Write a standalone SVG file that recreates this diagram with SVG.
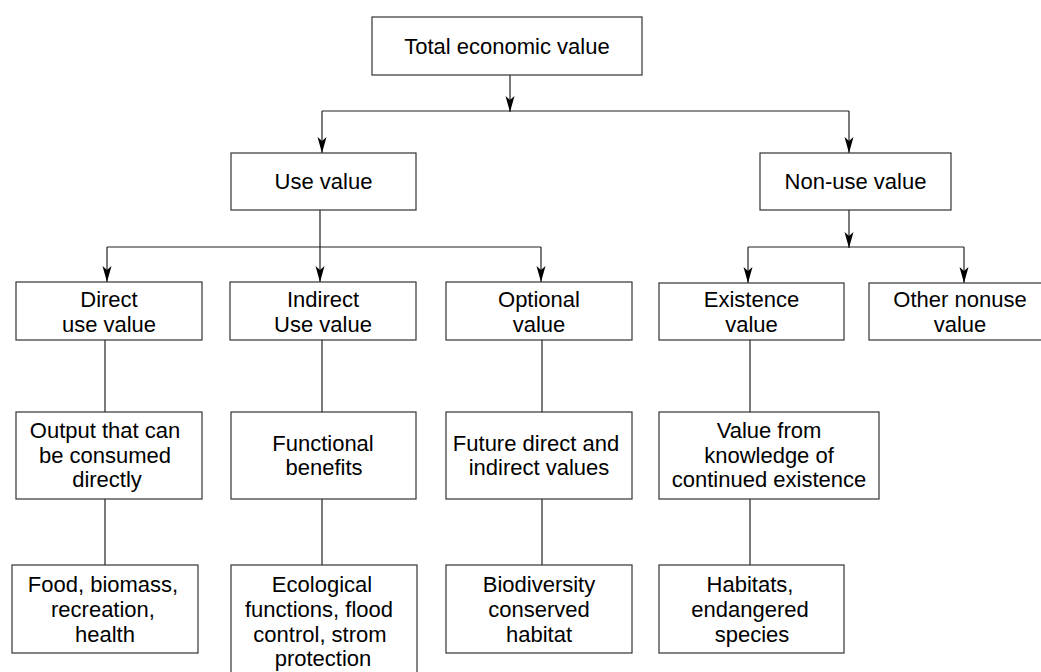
<svg xmlns="http://www.w3.org/2000/svg" width="1041" height="672" viewBox="0 0 1041 672">
<style>
.box{fill:#fff;stroke:#333;stroke-width:1.2}
.t{font-family:"Liberation Sans",Arial,sans-serif;font-size:22px;fill:#000;text-anchor:middle}
.ln{fill:none;stroke:#222;stroke-width:1.2}
</style>
<defs>
<marker id="ah" markerUnits="userSpaceOnUse" markerWidth="17" markerHeight="10" refX="16" refY="4.5" orient="auto">
<path d="M0,0 L16,4.5 L0,9 L4,4.5 z" fill="#000"/>
</marker>
</defs>
<rect width="1041" height="672" fill="#fff"/>
<g id="connectors">
<line class="ln" x1="510" y1="75" x2="510" y2="112" marker-end="url(#ah)"/>
<line class="ln" x1="322" y1="111" x2="849" y2="111"/>
<line class="ln" x1="322" y1="111" x2="322" y2="153" marker-end="url(#ah)"/>
<line class="ln" x1="849" y1="111" x2="849" y2="153" marker-end="url(#ah)"/>
<line class="ln" x1="107" y1="247" x2="541" y2="247"/>
<line class="ln" x1="320" y1="210" x2="320" y2="282" marker-end="url(#ah)"/>
<line class="ln" x1="107" y1="247" x2="107" y2="282" marker-end="url(#ah)"/>
<line class="ln" x1="541" y1="247" x2="541" y2="282" marker-end="url(#ah)"/>
<line class="ln" x1="849" y1="210" x2="849" y2="248" marker-end="url(#ah)"/>
<line class="ln" x1="748" y1="247" x2="964" y2="247"/>
<line class="ln" x1="748" y1="247" x2="748" y2="283" marker-end="url(#ah)"/>
<line class="ln" x1="964" y1="247" x2="964" y2="283" marker-end="url(#ah)"/>
<line class="ln" x1="105" y1="340" x2="105" y2="412"/>
<line class="ln" x1="105" y1="499" x2="105" y2="565"/>
<line class="ln" x1="322" y1="340" x2="322" y2="412"/>
<line class="ln" x1="322" y1="499" x2="322" y2="565"/>
<line class="ln" x1="542" y1="340" x2="542" y2="412"/>
<line class="ln" x1="542" y1="499" x2="542" y2="565"/>
<line class="ln" x1="750" y1="340" x2="750" y2="412"/>
<line class="ln" x1="750" y1="499" x2="750" y2="565"/>
</g>
<g id="total"><rect class="box" x="372" y="17" width="270" height="58"/><text class="t" x="507" y="54">Total economic value</text></g>
<g id="use"><rect class="box" x="231" y="153" width="185" height="57"/><text class="t" x="323.5" y="189">Use value</text></g>
<g id="nonuse"><rect class="box" x="760" y="153" width="191" height="57"/><text class="t" x="855.5" y="189">Non-use value</text></g>
<g id="direct"><rect class="box" x="16" y="282" width="186" height="58"/><text class="t" x="109" y="307">Direct</text><text class="t" x="109" y="332">use value</text></g>
<g id="indirect"><rect class="box" x="230" y="282" width="186" height="58"/><text class="t" x="323" y="307">Indirect</text><text class="t" x="323" y="332">Use value</text></g>
<g id="optional"><rect class="box" x="446" y="282" width="186" height="58"/><text class="t" x="539" y="307">Optional</text><text class="t" x="539" y="332">value</text></g>
<g id="existence"><rect class="box" x="659" y="283" width="185" height="57"/><text class="t" x="751.5" y="307">Existence</text><text class="t" x="751.5" y="332">value</text></g>
<g id="othernonuse"><rect class="box" x="869" y="283" width="186" height="57"/><text class="t" x="960" y="307">Other nonuse</text><text class="t" x="960" y="332">value</text></g>
<g id="output"><rect class="box" x="16" y="412" width="186" height="87"/><text class="t" x="105" y="438">Output that can</text><text class="t" x="105" y="463">be consumed</text><text class="t" x="107" y="487">directly</text></g>
<g id="functional"><rect class="box" x="231" y="412" width="185" height="87"/><text class="t" x="323" y="451">Functional</text><text class="t" x="324" y="475">benefits</text></g>
<g id="future"><rect class="box" x="446" y="412" width="186" height="87"/><text class="t" x="536" y="451">Future direct and</text><text class="t" x="539" y="475">indirect values</text></g>
<g id="valuefrom"><rect class="box" x="659" y="412" width="220" height="87"/><text class="t" x="769" y="438">Value from</text><text class="t" x="769" y="463">knowledge of</text><text class="t" x="769" y="487">continued existence</text></g>
<g id="food"><rect class="box" x="12" y="565" width="186" height="88"/><text class="t" x="103" y="592">Food, biomass,</text><text class="t" x="103" y="617">recreation,</text><text class="t" x="105" y="642">health</text></g>
<g id="ecological"><rect class="box" x="231" y="565" width="186" height="130"/><text class="t" x="322" y="592">Ecological</text><text class="t" x="319" y="617">functions, flood</text><text class="t" x="320" y="642">control, strom</text><text class="t" x="323" y="666">protection</text></g>
<g id="biodiversity"><rect class="box" x="446" y="565" width="186" height="88"/><text class="t" x="539" y="592">Biodiversity</text><text class="t" x="539" y="617">conserved</text><text class="t" x="539" y="642">habitat</text></g>
<g id="habitats"><rect class="box" x="659" y="565" width="185" height="88"/><text class="t" x="750" y="592">Habitats,</text><text class="t" x="750" y="617">endangered</text><text class="t" x="752" y="642">species</text></g>
</svg>
